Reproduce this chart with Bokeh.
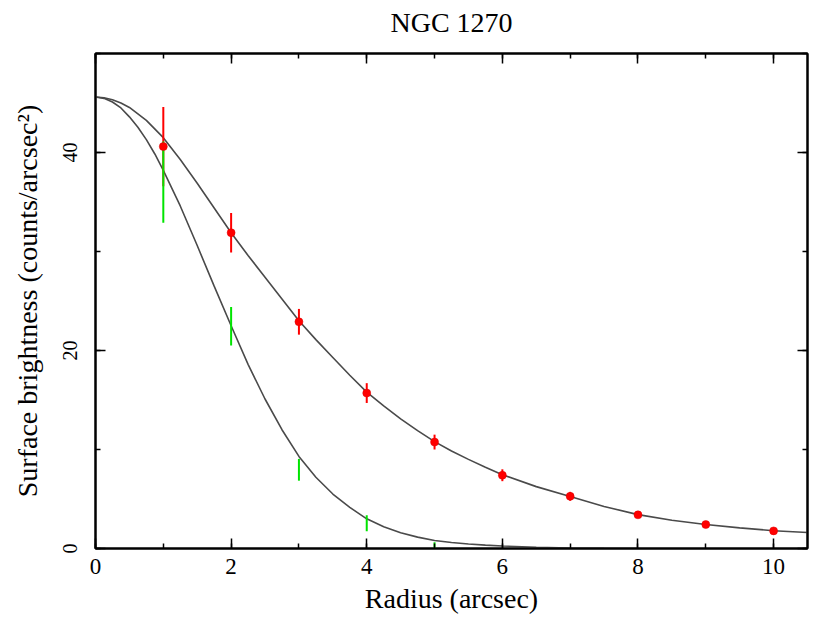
from bokeh.plotting import figure
from bokeh.models import (ColumnDataSource, LinearAxis, SingleIntervalTicker,
                          Range1d, CustomJSTickFormatter)
from bokeh.embed import file_html
from bokeh.resources import INLINE

# ---- data ----
title_text = "NGC 1270"

# red: measured surface brightness with errors
red_r = [1, 2, 3, 4, 5, 6, 7, 8, 9, 10]
red_sb = [40.6, 31.9, 22.9, 15.7, 10.75, 7.4, 5.27, 3.4, 2.42, 1.78]
red_err = [4.0, 2.0, 1.3, 1.0, 0.75, 0.6, 0.45, 0.3, 0.2, 0.15]

# green: second profile (error bars only)
green_r = [1, 2, 3, 4, 5]
green_sb = [37.0, 22.45, 7.95, 2.55, 0.32]
green_err = [4.1, 1.95, 1.1, 0.8, 0.32]

# model curves
model_r = [0, 0.125, 0.25, 0.375, 0.5, 0.75, 1.0, 1.25, 1.5, 1.75, 2.0, 2.25,
           2.5, 2.75, 3.0, 3.25, 3.5, 3.75, 4.0, 4.25, 4.5, 4.75, 5.0, 5.25,
           5.5, 5.75, 6.0, 6.5, 7.0, 7.5, 8.0, 8.5, 9.0, 9.5, 10.0, 10.5]
model_wide = [45.6, 45.53, 45.33, 45.0, 44.55, 43.25, 41.5, 39.3, 36.9, 34.4,
              31.9, 29.6, 27.4, 25.2, 23.0, 21.1, 19.3, 17.5, 15.8, 14.4,
              13.1, 11.9, 10.8, 9.85, 9.0, 8.2, 7.45, 6.25, 5.25, 4.25, 3.42,
              2.85, 2.42, 2.08, 1.8, 1.62]
psf_r = [0, 0.125, 0.25, 0.375, 0.5, 0.625, 0.75, 0.875, 1.0, 1.25, 1.5, 1.75,
         2.0, 2.25, 2.5, 2.75, 3.0, 3.25, 3.5, 3.75, 4.0, 4.25, 4.5, 4.75,
         5.0, 5.25, 5.5, 5.75, 6.0, 6.5, 7.0, 7.5, 8.0]
psf_sb = [45.6, 45.47, 45.1, 44.5, 43.6, 42.55, 41.3, 39.85, 38.2, 34.6, 30.6,
          26.5, 22.5, 18.6, 15.1, 12.0, 9.3, 7.2, 5.5, 4.15, 3.0, 2.2, 1.6,
          1.15, 0.8, 0.6, 0.45, 0.34, 0.25, 0.12, 0.05, 0.02, 0.0]

x_ticks_interval = 2
y_ticks_interval = 20

FONT = "Liberation Serif"

p = figure(width=830, height=620, output_backend="svg", toolbar_location=None,
           x_range=Range1d(0, 10.5), y_range=Range1d(0, 50),
           min_border_left=95, min_border_right=23, min_border_top=53,
           min_border_bottom=72, background_fill_color="white",
           border_fill_color="white")

p.xgrid.visible = False
p.ygrid.visible = False
p.outline_line_color = "black"
p.outline_line_width = 2

def style_axis(ax, size="22px"):
    ax.axis_line_color = "black"
    ax.axis_line_width = 2
    ax.major_tick_in = 10
    ax.major_tick_out = 0
    ax.minor_tick_in = 5
    ax.minor_tick_out = 0
    ax.major_tick_line_color = "black"
    ax.minor_tick_line_color = "black"
    ax.major_tick_line_width = 1.5
    ax.minor_tick_line_width = 1.5
    ax.major_label_text_font = FONT
    ax.major_label_text_font_size = size
    ax.major_label_text_color = "black"
    ax.axis_label_text_font = FONT
    ax.axis_label_text_font_size = "28px"
    ax.axis_label_text_font_style = "normal"
    ax.axis_label_text_color = "black"

xax = p.xaxis[0]
xax.ticker = SingleIntervalTicker(interval=x_ticks_interval, num_minor_ticks=2)
xax.axis_label = "Radius (arcsec)"
style_axis(xax, "23px")
xax.major_label_standoff = 10
xax.axis_label_standoff = 6

yax = p.yaxis[0]
yax.ticker = SingleIntervalTicker(interval=y_ticks_interval, num_minor_ticks=2)
yax.axis_label = "Surface brightness (counts/arcsec²)"
style_axis(yax, "20px")
yax.major_label_orientation = "parallel"
yax.major_label_standoff = 19
yax.axis_label_standoff = 17

blank = CustomJSTickFormatter(code="return ''")

# top axis carries the chart title as its label
top = LinearAxis(ticker=SingleIntervalTicker(interval=x_ticks_interval, num_minor_ticks=2),
                 formatter=blank, axis_label=title_text)
style_axis(top)
top.major_label_standoff = 0
top.axis_label_standoff = 16
p.add_layout(top, "above")

right = LinearAxis(ticker=SingleIntervalTicker(interval=y_ticks_interval, num_minor_ticks=2),
                   formatter=blank)
style_axis(right)
right.major_label_standoff = 0
p.add_layout(right, "right")

# model curves
p.line(model_r, model_wide, line_color="#4a4a4a", line_width=1.6)
p.line(psf_r, psf_sb, line_color="#4a4a4a", line_width=1.6)

red_src = ColumnDataSource(dict(
    x=red_r, y=red_sb,
    lo=[v - e for v, e in zip(red_sb, red_err)],
    hi=[v + e for v, e in zip(red_sb, red_err)]))
green_src = ColumnDataSource(dict(
    x=green_r, y=green_sb,
    lo=[v - e for v, e in zip(green_sb, green_err)],
    hi=[v + e for v, e in zip(green_sb, green_err)]))

p.segment(x0="x", y0="lo", x1="x", y1="hi", source=red_src,
          line_color="#ff0000", line_width=2)
p.segment(x0="x", y0="lo", x1="x", y1="hi", source=green_src,
          line_color="#00e400", line_width=2)
p.scatter(x="x", y="y", source=red_src, size=8, fill_color="#ff0000",
          line_color="#dd0000", line_width=0.5)

open("out.html", "w").write(file_html(p, INLINE))
